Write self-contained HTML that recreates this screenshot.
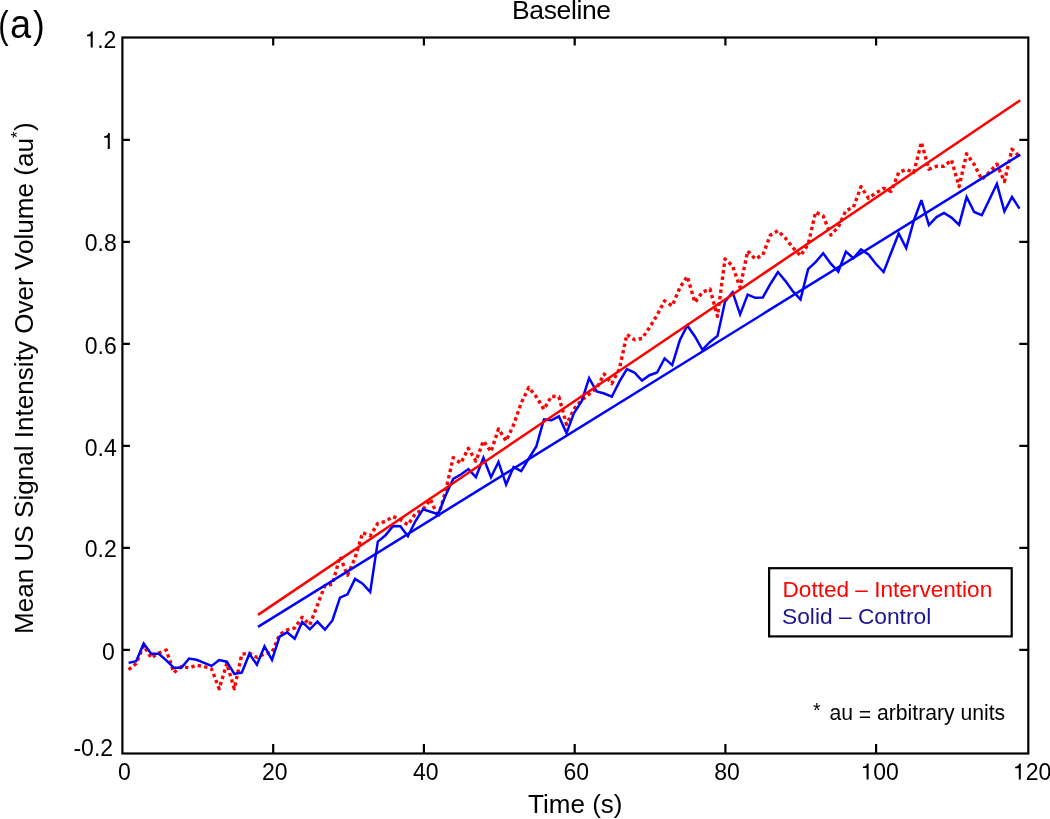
<!DOCTYPE html><html><head><meta charset="utf-8"><style>html,body{margin:0;padding:0;background:#fff;}svg{display:block;will-change:transform;}text{font-family:"Liberation Sans", sans-serif;}</style></head><body>
<svg width="1050" height="819" viewBox="0 0 1050 819">
<rect x="0" y="0" width="1050" height="819" fill="#fff"/>
<polyline points="128.6,669.7 136.2,663.5 143.7,645.5 151.2,658.0 158.8,653.0 166.3,650.0 173.9,672.6 181.4,666.5 189.0,667.8 196.6,665.3 204.1,666.5 211.6,669.0 219.2,688.8 226.8,663.5 234.3,688.8 241.8,654.3 249.4,653.1 256.9,657.4 264.5,653.7 272.0,652.5 279.6,634.6 287.1,630.0 294.7,627.9 302.2,617.2 309.8,624.8 317.4,605.2 324.9,585.6 332.4,584.3 340.0,556.6 347.5,575.2 355.1,558.0 362.6,532.7 370.2,535.8 377.8,523.4 385.3,521.5 392.9,516.5 400.4,519.5 407.9,524.8 415.5,513.5 423.0,509.5 430.6,499.3 438.1,517.2 445.7,490.7 453.2,457.7 460.8,463.1 468.4,448.3 475.9,461.1 483.4,440.9 491.0,451.7 498.5,428.9 506.1,440.9 513.6,424.8 521.2,403.0 528.8,387.4 536.3,396.8 543.9,409.3 551.4,396.2 558.9,396.8 566.5,424.4 574.0,408.9 581.6,400.2 589.1,394.2 596.7,388.1 604.2,374.0 611.8,383.6 619.4,369.0 626.9,334.5 634.4,339.7 642.0,338.5 649.5,327.5 657.1,315.1 664.6,300.8 672.2,305.9 679.8,287.8 687.3,276.4 694.9,302.4 702.4,292.2 710.0,289.0 717.5,316.4 725.0,258.9 732.6,266.0 740.1,287.5 747.7,251.0 755.2,258.9 762.8,255.0 770.4,235.1 777.9,230.7 785.5,238.3 793.0,247.8 800.5,255.7 808.1,244.6 815.6,212.1 823.2,216.0 830.8,235.1 838.3,227.1 845.9,210.5 853.4,207.3 861.0,186.7 868.5,198.2 876.0,193.0 883.6,188.3 891.1,191.4 898.7,172.4 906.2,169.5 913.8,172.4 921.4,142.2 928.9,169.2 936.5,166.3 944.0,166.3 951.5,160.0 959.1,186.6 966.6,153.8 974.2,164.6 981.8,179.5 989.3,172.3 996.9,164.1 1004.4,181.6 1012.0,149.2 1019.5,156.4" fill="none" stroke="#ff0000" stroke-width="3.4" stroke-dasharray="3.4 3.15" stroke-linejoin="round"/>
<polyline points="128.6,662.9 136.2,661.2 143.7,643.6 151.2,653.8 158.8,653.8 166.3,660.4 173.9,667.8 181.4,667.8 189.0,658.6 196.6,659.8 204.1,662.9 211.6,665.9 219.2,660.1 226.8,661.7 234.3,673.9 241.8,672.6 249.4,653.7 256.9,664.7 264.5,646.4 272.0,659.8 279.6,636.6 287.1,632.3 294.7,638.7 302.2,621.9 309.8,629.3 317.4,621.6 324.9,629.7 332.4,620.5 340.0,597.7 347.5,594.4 355.1,578.9 362.6,583.6 370.2,592.0 377.8,541.6 385.3,535.5 392.9,526.1 400.4,526.3 407.9,536.2 415.5,521.0 423.0,509.3 430.6,511.7 438.1,514.2 445.7,495.3 453.2,478.9 460.8,474.5 468.4,469.1 475.9,477.2 483.4,457.7 491.0,477.2 498.5,462.0 506.1,484.6 513.6,467.1 521.2,471.1 528.8,458.5 536.3,446.5 543.9,419.4 551.4,420.3 558.9,416.3 566.5,433.1 574.0,413.0 581.6,401.5 589.1,378.1 596.7,391.5 604.2,393.5 611.8,396.7 619.4,381.6 626.9,369.1 634.4,372.5 642.0,380.5 649.5,375.2 657.1,372.5 664.6,358.4 672.2,365.1 679.8,340.3 687.3,325.5 694.9,336.5 702.4,349.8 710.0,342.0 717.5,335.9 725.0,301.7 732.6,292.2 740.1,314.4 747.7,294.6 755.2,297.8 762.8,297.5 770.4,284.0 777.9,272.0 785.5,281.1 793.0,291.4 800.5,299.4 808.1,269.2 815.6,262.1 823.2,253.3 830.8,263.7 838.3,271.6 845.9,251.6 853.4,258.2 861.0,249.5 868.5,254.4 876.0,264.0 883.6,272.0 891.1,252.7 898.7,233.5 906.2,248.1 913.8,220.7 921.4,200.1 928.9,225.0 936.5,217.1 944.0,212.9 951.5,217.6 959.1,224.8 966.6,197.0 974.2,212.0 981.8,215.2 989.3,199.8 996.9,183.8 1004.4,211.3 1012.0,197.0 1019.5,208.6" fill="none" stroke="#0000ff" stroke-width="2.5" stroke-linejoin="miter" stroke-miterlimit="3"/>
<line x1="258.0" y1="614.9" x2="1020.2" y2="100.3" stroke="#ff0000" stroke-width="2.5"/>
<line x1="258.0" y1="626.9" x2="1020.2" y2="154.6" stroke="#0000ff" stroke-width="2.5"/>
<rect x="122.4" y="37.5" width="905.9" height="716.0" fill="none" stroke="#000" stroke-width="2.2"/>
<path d="M273.2 753.5V743.9M273.2 37.5V45.5M423.9 753.5V743.9M423.9 37.5V45.5M574.7 753.5V743.9M574.7 37.5V45.5M725.4 753.5V743.9M725.4 37.5V45.5M876.1 753.5V743.9M876.1 37.5V45.5M122.4 649.9H129.9M1028.3 649.9H1019.3M122.4 547.9H129.9M1028.3 547.9H1019.3M122.4 445.9H129.9M1028.3 445.9H1019.3M122.4 343.9H129.9M1028.3 343.9H1019.3M122.4 241.9H129.9M1028.3 241.9H1019.3M122.4 139.9H129.9M1028.3 139.9H1019.3" stroke="#000" stroke-width="2.2" fill="none"/>
<g font-size="23" fill="#000"><text x="124.5" y="779.5" text-anchor="middle">0</text><text x="274.7" y="779.5" text-anchor="middle">20</text><text x="425.7" y="779.5" text-anchor="middle">40</text><text x="576.2" y="779.5" text-anchor="middle">60</text><text x="727.0" y="779.5" text-anchor="middle">80</text><path transform="translate(862.90,779.40)" d="M0,-12.8L0,-11.3L3.67,-11.3L3.67,0L5.72,0L5.72,-15.9L4.1,-15.9C3.8,-14.2 2.7,-12.9 0.6,-12.8Z" fill="#000"/><text x="873.3" y="779.5">00</text><path transform="translate(1015.10,779.50)" d="M0,-12.8L0,-11.3L3.67,-11.3L3.67,0L5.72,0L5.72,-15.9L4.1,-15.9C3.8,-14.2 2.7,-12.9 0.6,-12.8Z" fill="#000"/><text x="1025.7" y="779.5">20</text></g>
<g font-size="23" fill="#000" text-anchor="end"><text x="116.8" y="251.4">0.8</text><text x="116.8" y="353.6">0.6</text><text x="116.8" y="455.6">0.4</text><text x="116.8" y="557.2">0.2</text><text x="114.7" y="659.9">0</text><text x="113.1" y="755.5">-0.2</text><text x="116.4" y="47.6">.2</text></g>
<path transform="translate(87.00,47.50)" d="M0,-12.8L0,-11.3L3.67,-11.3L3.67,0L5.72,0L5.72,-15.9L4.1,-15.9C3.8,-14.2 2.7,-12.9 0.6,-12.8Z" fill="#000"/><path transform="translate(104.10,149.00)" d="M0,-12.8L0,-11.3L3.67,-11.3L3.67,0L5.72,0L5.72,-15.9L4.1,-15.9C3.8,-14.2 2.7,-12.9 0.6,-12.8Z" fill="#000"/>
<text x="512" y="19" font-size="26.5" textLength="99.1" lengthAdjust="spacing">Baseline</text>
<g font-size="39"><text transform="translate(-1.7,37.9) scale(0.8,1)">(</text><text transform="translate(10.0,38.1) scale(0.95,1)" font-size="40">a</text><text transform="translate(33.0,37.9) scale(0.9,1)">)</text></g>
<text x="575.3" y="813" font-size="26" text-anchor="middle">Time (s)</text>
<g transform="translate(33,634) rotate(-90)" font-size="26.1"><text x="0" y="0" textLength="496.0" lengthAdjust="spacing">Mean US Signal Intensity Over Volume (au</text><text x="496.0" y="-10.0" font-size="17">*</text><text x="503.0" y="0">)</text></g>
<rect x="769.1" y="568.2" width="242.6" height="68.2" fill="#fff" stroke="#000" stroke-width="2.2"/>
<text x="782.5" y="597" font-size="22.6" fill="#ff0000">Dotted – Intervention</text>
<text x="782.0" y="623.5" font-size="22.75" fill="#1c1494">Solid – Control</text>
<text x="813.1" y="717.2" font-size="19.5">*</text>
<text x="829.4" y="720" font-size="21.15">au <tspan dy="2">=</tspan><tspan dy="-2"> arbitrary units</tspan></text>
</svg></body></html>
